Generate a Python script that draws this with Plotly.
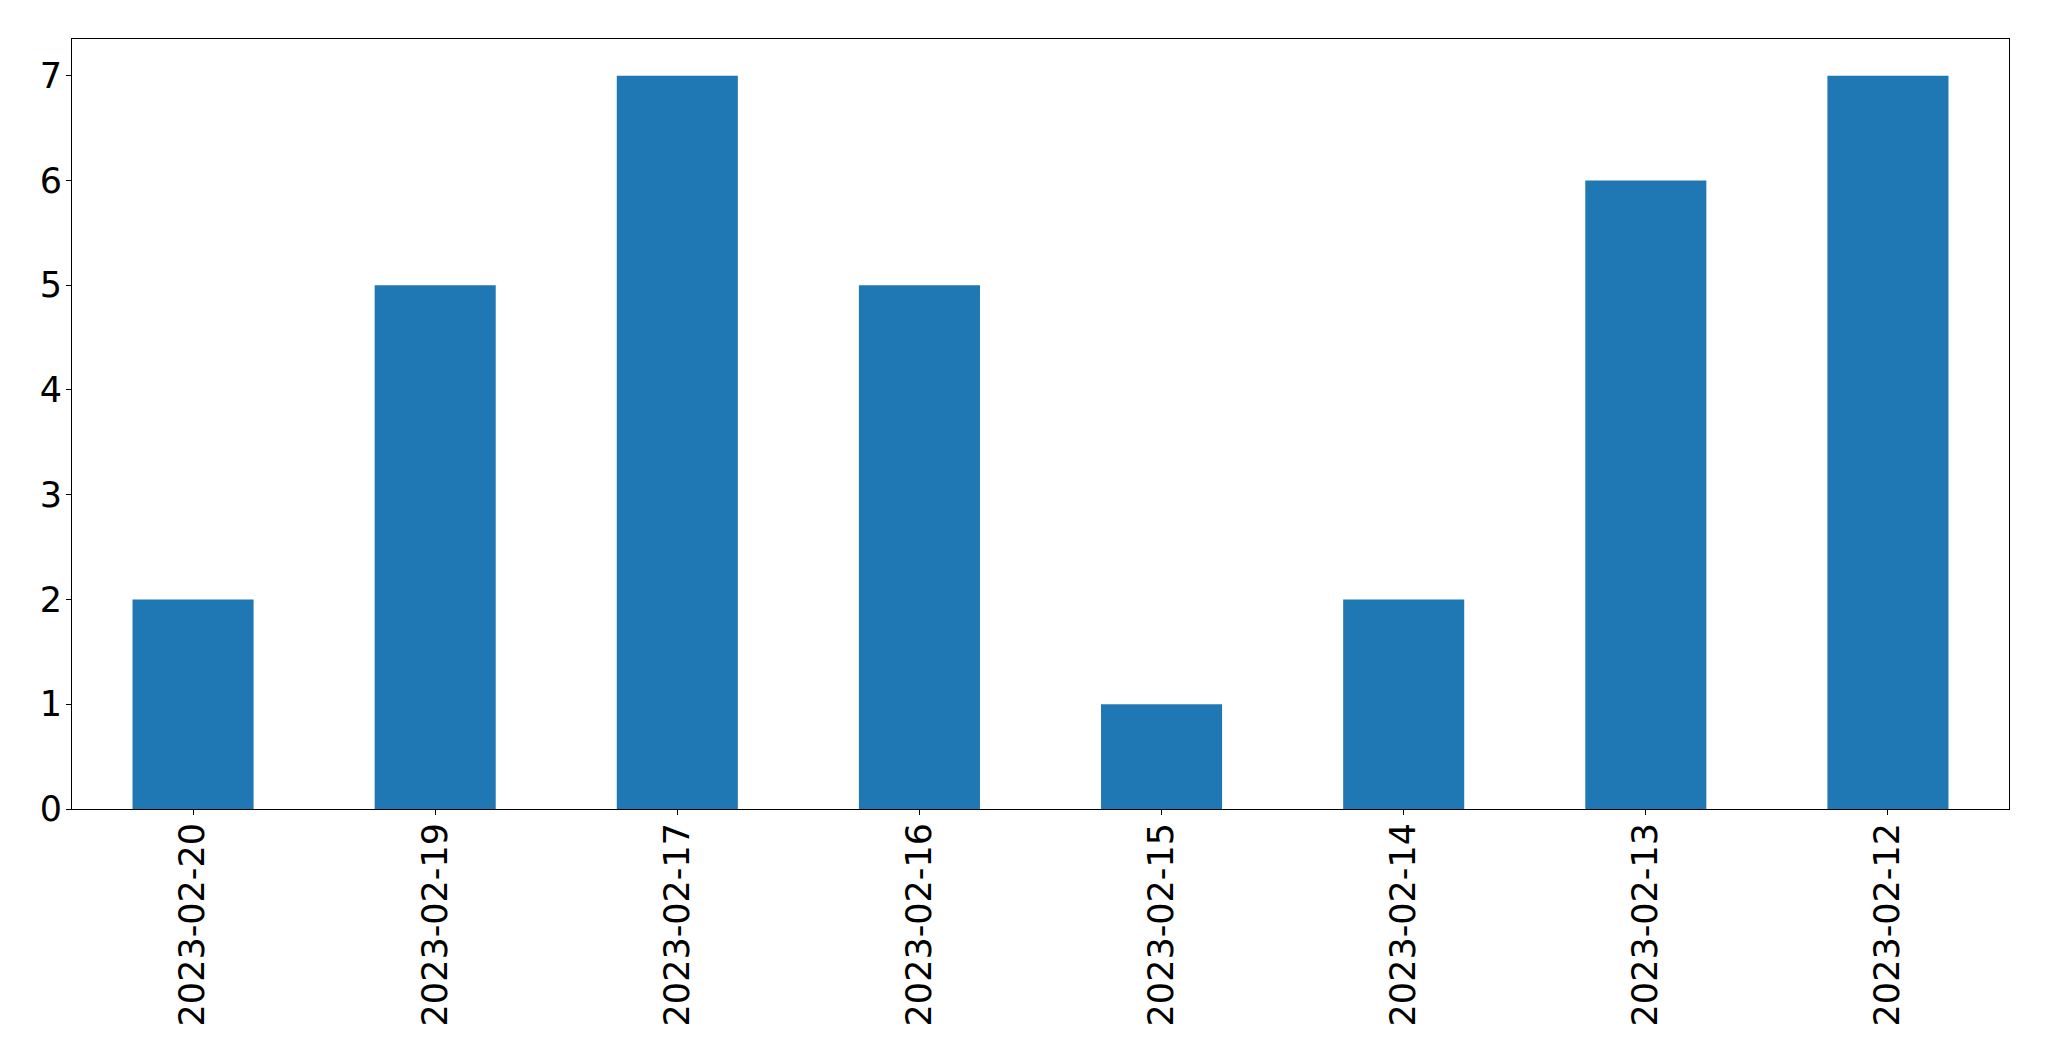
import plotly.graph_objects as go

dates = ["2023-02-20", "2023-02-19", "2023-02-17", "2023-02-16",
         "2023-02-15", "2023-02-14", "2023-02-13", "2023-02-12"]
counts = [2, 5, 7, 5, 1, 2, 6, 7]
y_ticks = [0, 1, 2, 3, 4, 5, 6, 7]

fig = go.Figure(go.Bar(x=dates, y=counts, marker_color="#1f77b4",
                       marker_line_width=0, width=0.5))

fig.update_layout(
    width=2049, height=1061,
    margin=dict(l=64, r=48, t=31, b=260),
    plot_bgcolor="white", paper_bgcolor="white",
    font=dict(family="DejaVu Sans", size=35, color="black"),
    showlegend=False,
)
fig.update_xaxes(type="category", range=[-0.5, 7.5], tickangle=-90,
                 showline=True, linecolor="black", linewidth=1, mirror=True,
                 ticks="outside", ticklen=5, tickcolor="black",
                 showgrid=False, ticklabelstandoff=-6)
fig.update_yaxes(range=[0, 7.35], tickvals=y_ticks,
                 showline=True, linecolor="black", linewidth=1, mirror=True,
                 ticks="outside", ticklen=5, tickcolor="black",
                 showgrid=False, zeroline=False, ticklabelstandoff=-3)

fig.write_html("out.html")
